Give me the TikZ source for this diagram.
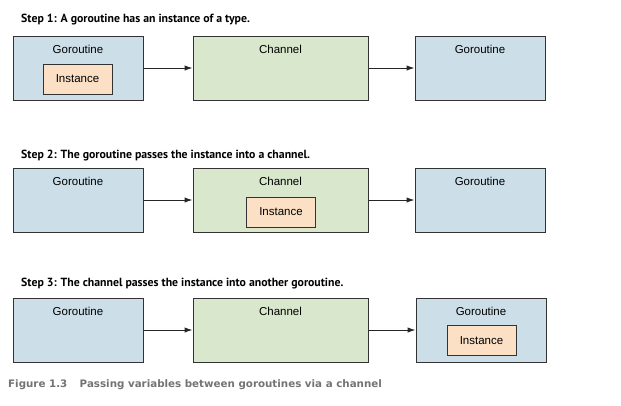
\documentclass[tikz,border=0pt]{standalone}
\usepackage{fontspec}
\setmainfont{Liberation Sans}
\newfontfamily\titlefont{PT Sans}
\newfontfamily\capfont{DejaVu Sans}
\usetikzlibrary{arrows.meta}
\definecolor{gorblue}{HTML}{CCDEE8}
\definecolor{changreen}{HTML}{D9E7CD}
\definecolor{instpeach}{HTML}{FBE0C6}
\definecolor{capgray}{HTML}{737373}
\begin{document}
\begin{tikzpicture}[x=1pt, y=-1pt,
    box/.style={draw=black!80, line width=1pt, minimum width=130pt, minimum height=64pt, inner sep=0pt},
    gor/.style={box, fill=gorblue},
    chan/.style={box, fill=changreen, minimum width=175pt},
    inst/.style={draw=black!80, line width=1pt, fill=instpeach, minimum width=69pt, minimum height=30pt, inner sep=0pt, font=\fontsize{11.5}{13}\selectfont},
    lbl/.style={inner sep=0pt, font=\fontsize{11.5}{13}\selectfont},
    steptitle/.style={anchor=west, inner sep=0pt, font=\titlefont\bfseries\fontsize{11.8}{14}\selectfont},
    flow/.style={-{Latex[length=8pt, width=5.5pt]}, line width=1pt, black!85}]
    \useasboundingbox (0,0) rectangle (621,405);

    \node[steptitle] (s1) at (21,20) {Step 1: A goroutine has an instance of a type.};
    \node[gor]  (g1) at (78,68) {};
    \node[chan] (c1) at (280.5,68) {};
    \node[gor]  (h1) at (480,68) {};
    \node[lbl] (g1t) at (78,49) {Goroutine};
    \node[lbl] (c1t) at (280.5,49) {Channel};
    \node[lbl] (h1t) at (480,49) {Goroutine};
    \node[inst] (i1) at (77.5,79) {Instance};
    \draw[flow] (g1) -- (c1);
    \draw[flow] (c1) -- (h1);

    \node[steptitle] (s2) at (21,156) {Step 2: The goroutine passes the instance into a channel.};
    \node[gor]  (g2) at (78,200) {};
    \node[chan] (c2) at (280.5,200) {};
    \node[gor]  (h2) at (480,200) {};
    \node[lbl] (g2t) at (78,181) {Goroutine};
    \node[lbl] (c2t) at (280.5,181) {Channel};
    \node[lbl] (h2t) at (480,181) {Goroutine};
    \node[inst] (i2) at (281,212) {Instance};
    \draw[flow] (g2) -- (c2);
    \draw[flow] (c2) -- (h2);

    \node[steptitle] (s3) at (21,284) {Step 3: The channel passes the instance into another goroutine.};
    \node[gor]  (g3) at (78,330) {};
    \node[chan] (c3) at (280.5,330) {};
    \node[gor]  (h3) at (481,330) {};
    \node[lbl] (g3t) at (78,311) {Goroutine};
    \node[lbl] (c3t) at (280.5,311) {Channel};
    \node[lbl] (h3t) at (481,311) {Goroutine};
    \node[inst] (i3) at (481.5,340.5) {Instance};
    \draw[flow] (g3) -- (c3);
    \draw[flow] (c3) -- (h3);

    \node[anchor=west, inner sep=0pt, text=capgray, font=\capfont\bfseries\fontsize{10.3}{12}\selectfont] (cap) at (8,385) {Figure 1.3\hspace{1.2em}Passing variables between goroutines via a channel};
\end{tikzpicture}
\end{document}
